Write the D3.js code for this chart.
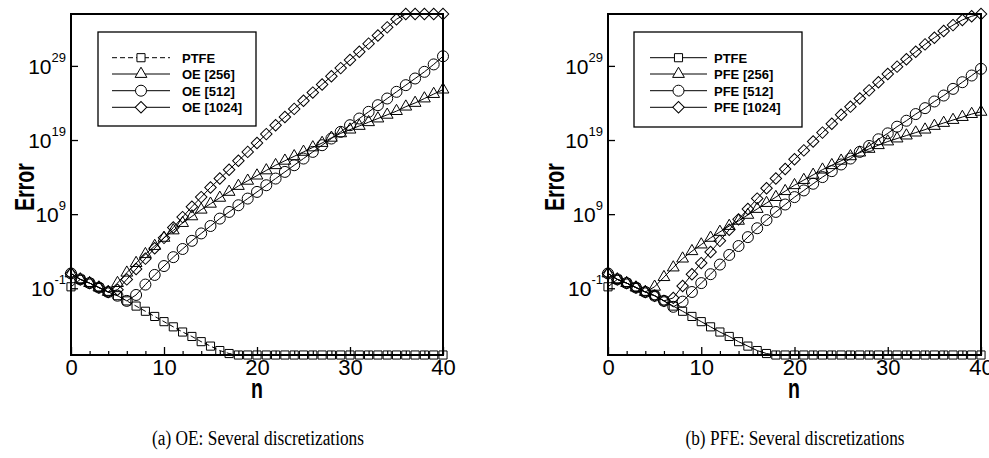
<!DOCTYPE html>
<html><head><meta charset="utf-8">
<script src="https://cdn.jsdelivr.net/npm/d3@7"></script>
<style>body{margin:0;background:#fff}svg{display:block}</style>
</head><body>
<svg id="chart" width="989" height="458"></svg>
<script>
// ---------------- data (log10 of the error) ----------------
const nValues = [0,1,2,3,4,5,6,7,8,9,10,11,12,13,14,15,16,17,18,19,20,21,22,23,24,25,26,27,28,29,30,31,32,33,34,35,36,37,38,39,40];

const ptfeLog = [-0.8,0.2,-0.3,-0.9,-1.5,-2.0,-2.7,-3.4,-4.1,-4.8,-5.5,-6.2,-6.9,-7.5,-8.2,-8.8,-9.4,-9.8,-10,-10,-10,-10,-10,-10,-10,-10,-10,-10,-10,-10,-10,-10,-10,-10,-10,-10,-10,-10,-10,-10,-10];

const oe256Log  = [1.0,0.2,-0.3,-0.9,-1.5,-0.3,1.1,2.4,3.6,4.7,5.8,6.8,7.8,8.7,9.6,10.4,11.2,12.0,12.8,13.5,14.2,14.9,15.6,16.2,16.8,17.4,18.0,18.6,19.3,19.9,20.4,20.9,21.4,21.9,22.4,22.9,23.5,24.0,24.6,25.2,25.8];
const oe512Log  = [1.0,0.2,-0.3,-0.9,-1.5,-2.0,-2.7,-1.9,-0.5,0.8,2.0,3.2,4.3,5.4,6.4,7.4,8.4,9.3,10.2,11.1,12.0,12.9,13.8,14.7,15.6,16.5,17.4,18.3,19.2,20.1,21.0,21.9,22.8,23.7,24.6,25.5,26.4,27.3,28.2,29.2,30.3];
const oe1024Log = [1.0,0.2,-0.3,-0.9,-1.5,-1.2,0.2,1.6,3.0,4.4,5.8,7.2,8.6,10.0,11.3,12.6,13.8,15.0,16.2,17.4,18.6,19.8,21.0,22.1,23.2,24.3,25.4,26.5,27.6,28.7,29.8,30.9,32.0,33.1,34.2,35.3,36,36,36,36,36];

const pfe256Log  = [1.0,0.2,-0.3,-0.9,-1.5,-0.8,0.5,1.8,3.0,4.0,4.9,5.8,6.6,7.4,8.1,8.9,9.7,10.5,11.3,12.1,12.9,13.6,14.3,15.0,15.6,16.2,16.8,17.3,17.8,18.3,18.8,19.2,19.6,20.0,20.4,20.9,21.3,21.7,22.1,22.5,22.8];
const pfe512Log  = [1.0,0.2,-0.3,-0.9,-1.5,-2.0,-2.7,-3.5,-2.8,-1.5,-0.3,0.9,2.2,3.5,4.7,5.9,7.1,8.2,9.3,10.3,11.3,12.2,13.1,14.0,14.8,15.7,16.5,17.4,18.2,19.1,19.9,20.8,21.6,22.5,23.3,24.2,25.0,25.9,26.8,27.7,28.6];
const pfe1024Log = [1.0,0.2,-0.3,-0.9,-1.5,-2.0,-2.7,-2.3,-0.7,0.9,2.4,3.9,5.4,6.9,8.3,9.7,11.1,12.5,13.8,15.1,16.4,17.6,18.8,20.0,21.2,22.4,23.5,24.6,25.7,26.8,27.9,28.9,29.9,30.9,31.9,32.8,33.7,34.5,35.2,35.7,36.0];

const xTickLabels = [0,10,20,30,40];
const xMinorTicks = [2,4,6,8,12,14,16,18,22,24,26,28,32,34,36,38];
const yTickExponents = ["-1","9","19","29"];
const leftLabels  = ["PTFE","OE [256]","OE [512]","OE [1024]"];
const rightLabels = ["PTFE","PFE [256]","PFE [512]","PFE [1024]"];
const captions = ["(a) OE: Several discretizations","(b) PFE: Several discretizations"];

// ---------------- drawing ----------------
const svg = d3.select("#chart");
const sans = "'Liberation Sans', Arial, Helvetica, sans-serif";
const yTop = 14, yBot = 355;

const shapes = [
  {path: d3.symbol().type(d3.symbolSquare).size(66)(), rot: 0},
  {path: d3.symbol().type(d3.symbolTriangle).size(60)(), rot: 0},
  {path: d3.symbol().type(d3.symbolCircle).size(95)(), rot: 0},
  {path: d3.symbol().type(d3.symbolSquare).size(66)(), rot: 45}
];

const panels = [
  {x0: 71, x1: 443, series: [ptfeLog, oe256Log, oe512Log, oe1024Log], labels: leftLabels,
   dashFirst: "5,3", legend: {x: 98, y: 32, w: 158, h: 94, l0: 112, l1: 170, tx: 182},
   errX: 34, nX: 257, capX: 258, capW: 212, caption: captions[0]},
  {x0: 608, x1: 981, series: [ptfeLog, pfe256Log, pfe512Log, pfe1024Log], labels: rightLabels,
   dashFirst: null, legend: {x: 634, y: 32, w: 168, h: 95, l0: 650, l1: 707, tx: 714},
   errX: 564, nX: 794, capX: 795, capW: 219, caption: captions[1]}
];
const legendRowsY = [57.7, 74, 90.7, 107.3];

panels.forEach(p => {
  const x = d3.scaleLinear().domain([0, 40]).range([p.x0, p.x1]);
  const y = d3.scaleLog().domain([1e-10, 1e36]).range([yBot, yTop]);
  const g = svg.append("g");

  // frame
  g.append("rect").attr("x", p.x0).attr("y", yTop).attr("width", p.x1 - p.x0).attr("height", yBot - yTop)
    .attr("fill", "none").attr("stroke", "#000").attr("stroke-width", 2);

  // x axis (inward ticks)
  const xa = g.append("g").attr("transform", `translate(0,${yBot})`)
    .call(d3.axisBottom(x).tickValues(xTickLabels).tickSizeInner(-8).tickSizeOuter(0).tickPadding(4).tickFormat(d3.format("d")));
  xa.select(".domain").remove();
  xa.selectAll("line").attr("stroke", "#000").attr("stroke-width", 1.3);
  xa.selectAll("text").attr("font-family", sans).attr("font-size", 22).attr("fill", "#000");
  const xm = g.append("g").attr("transform", `translate(0,${yBot})`)
    .call(d3.axisBottom(x).tickValues(xMinorTicks).tickSizeInner(-4).tickSizeOuter(0).tickFormat(""));
  xm.select(".domain").remove();
  xm.selectAll("line").attr("stroke", "#000").attr("stroke-width", 1.2);

  // y axis
  const ya = g.append("g").attr("transform", `translate(${p.x0},0)`)
    .call(d3.axisLeft(y).tickValues(yTickExponents.map(e => Math.pow(10, +e))).tickSizeInner(-7).tickSizeOuter(0).tickFormat(""));
  ya.select(".domain").remove();
  ya.selectAll("line").attr("stroke", "#000").attr("stroke-width", 1.3);
  yTickExponents.forEach(e => {
    const t = g.append("text").attr("x", p.x0 - 5).attr("y", y(Math.pow(10, +e)) + 8)
      .attr("text-anchor", "end").attr("font-family", sans).attr("font-size", 21).attr("fill", "#000");
    t.append("tspan").text("10");
    t.append("tspan").attr("dy", -12).attr("font-size", 13).text(e);
  });

  // series
  const line = d3.line().x((d, i) => x(nValues[i])).y(d => y(Math.pow(10, d)));
  p.series.forEach((s, si) => {
    g.append("path").datum(s).attr("d", line).attr("fill", "none").attr("stroke", "#000")
      .attr("stroke-width", 1).attr("stroke-dasharray", si === 0 && p.dashFirst ? p.dashFirst : null);
    g.append("g").selectAll("path").data(s).join("path")
      .attr("d", shapes[si].path)
      .attr("transform", (d, i) => `translate(${x(nValues[i])},${y(Math.pow(10, d))}) rotate(${shapes[si].rot})`)
      .attr("fill", "none").attr("stroke", "#000").attr("stroke-width", 1);
  });

  // legend
  const L = p.legend;
  g.append("rect").attr("x", L.x).attr("y", L.y).attr("width", L.w).attr("height", L.h)
    .attr("fill", "#fff").attr("stroke", "#000").attr("stroke-width", 1.3);
  p.labels.forEach((lab, i) => {
    const ly = legendRowsY[i];
    g.append("line").attr("x1", L.l0).attr("x2", L.l1).attr("y1", ly).attr("y2", ly)
      .attr("stroke", "#000").attr("stroke-width", 1)
      .attr("stroke-dasharray", i === 0 && p.dashFirst ? p.dashFirst : null);
    g.append("path").attr("d", shapes[i].path)
      .attr("transform", `translate(${(L.l0 + L.l1) / 2},${ly}) rotate(${shapes[i].rot})`)
      .attr("fill", "#fff").attr("stroke", "#000").attr("stroke-width", 1);
    g.append("text").attr("x", L.tx).attr("y", ly + 5).attr("font-family", sans).attr("font-weight", "bold")
      .attr("font-size", 13).attr("fill", "#000").text(lab);
  });

  // axis titles
  g.append("text").attr("transform", `translate(${p.nX},398) scale(1,1.45)`).attr("text-anchor", "middle")
    .attr("font-family", sans).attr("font-weight", "bold").attr("font-size", 19.5).attr("fill", "#000").text("n");
  g.append("text").attr("transform", `translate(${p.errX},187) rotate(-90) scale(1,1.45)`).attr("text-anchor", "middle")
    .attr("font-family", sans).attr("font-weight", "bold").attr("font-size", 19.5).attr("fill", "#000").text("Error");

  // caption
  g.append("text").attr("x", p.capX - p.capW / 2).attr("y", 445)
    .attr("textLength", p.capW).attr("lengthAdjust", "spacingAndGlyphs")
    .attr("font-family", "'Liberation Serif', 'DejaVu Serif', serif").attr("font-size", 20).attr("fill", "#000")
    .text(p.caption);
});
</script>
</body></html>
